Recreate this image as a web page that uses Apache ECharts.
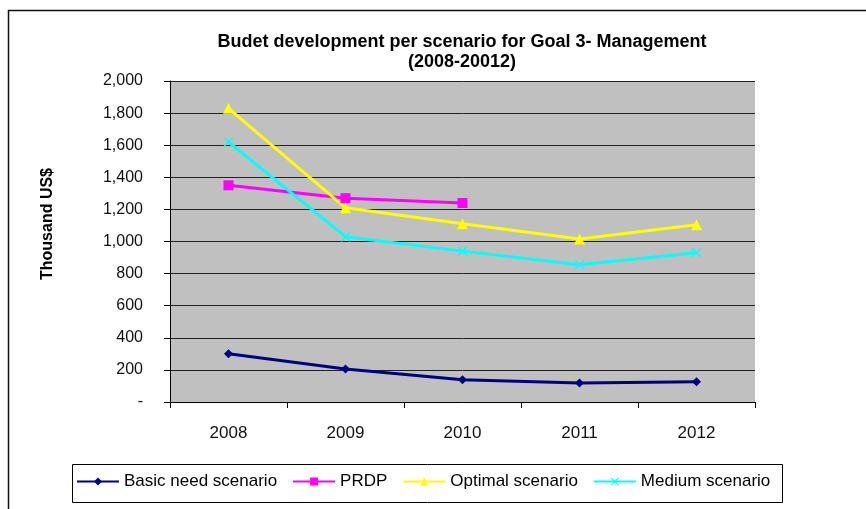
<!DOCTYPE html>
<html>
<head>
<meta charset="utf-8">
<script src="https://cdn.jsdelivr.net/npm/echarts@6/dist/echarts.min.js"></script>
<style>
  html, body { margin: 0; padding: 0; background: #fff; }
  #chart { width: 866px; height: 509px; }
</style>
</head>
<body>
<div id="chart"></div>
<script>
const years = ['2008', '2009', '2010', '2011', '2012'];
const basicNeed = [300, 205, 138, 118, 126];
const prdp = [1350, 1270, 1240, null, null];
const optimal = [1830, 1210, 1110, 1015, 1105];
const medium = [1620, 1030, 940, 855, 930];

const crossSymbol = 'path://M0,1L1,0L5,4L9,0L10,1L6,5L10,9L9,10L5,6L1,10L0,9L4,5Z';
const font = 'Arial, "Liberation Sans", sans-serif';

let chart = echarts.init(document.getElementById('chart'));

function makeLine(name, data, color, symbol, size) {
    return {
        name: name,
        type: 'line',
        data: data,
        symbol: symbol,
        symbolSize: size,
        showAllSymbol: true,
        lineStyle: { color: color, width: 3 },
        itemStyle: { color: color },
        emphasis: { disabled: true }
    };
}

let option = {
    animation: false,
    textStyle: { fontFamily: font },
    title: {
        text: 'Budet development per scenario for Goal 3- Management\n(2008-20012)',
        left: 457,
        textAlign: 'center',
        top: 27,
        textStyle: { fontSize: 18, fontWeight: 'bold', color: '#000', lineHeight: 20, fontFamily: font }
    },
    graphic: [
        {
            // outer chart frame (right and bottom edges fall outside the picture)
            type: 'rect',
            left: 6,
            top: 8,
            shape: { width: 870, height: 510 },
            style: { fill: 'none', stroke: '#111', lineWidth: 1.5 },
            silent: true
        },
        {
            type: 'rect',
            left: 70,
            top: 462,
            shape: { width: 710, height: 38 },
            style: { fill: 'none', stroke: '#000', lineWidth: 1 },
            silent: true
        },
        {
            type: 'text',
            x: 48,
            y: 224,
            rotation: Math.PI / 2,
            style: {
                text: 'Thousand US$',
                fontSize: 16,
                fontWeight: 'bold',
                fontFamily: font,
                fill: '#000',
                align: 'center',
                verticalAlign: 'middle'
            },
            silent: true
        }
    ],
    legend: {
        left: 76,
        top: 473,
        padding: 0,
        itemGap: 15,
        itemWidth: 42,
        itemHeight: 10,
        textStyle: { fontSize: 17, color: '#000', fontFamily: font },
        data: ['Basic need scenario', 'PRDP', 'Optimal scenario', 'Medium scenario']
    },
    grid: { left: 170, right: 111, top: 81, bottom: 107, show: true, backgroundColor: '#C0C0C0', borderWidth: 0 },
    xAxis: {
        type: 'category',
        data: years,
        boundaryGap: true,
        axisLine: { lineStyle: { color: '#000', width: 1 } },
        axisTick: { show: true, length: 6, lineStyle: { color: '#000' } },
        axisLabel: { color: '#111', fontSize: 17, margin: 23, fontFamily: font }
    },
    yAxis: {
        type: 'value',
        min: 0,
        max: 2000,
        interval: 200,
        axisLine: { show: true, lineStyle: { color: '#000', width: 1 } },
        axisTick: { show: true, length: 6, lineStyle: { color: '#000' } },
        splitLine: { lineStyle: { color: '#222', width: 1 } },
        axisLabel: {
            color: '#111',
            fontSize: 16,
            margin: 27,
            fontFamily: font,
            formatter: function (v) {
                return v === 0 ? '-' : v.toLocaleString('en-US');
            }
        }
    },
    series: [
        makeLine('Basic need scenario', basicNeed, '#000080', 'diamond', 9),
        makeLine('PRDP', prdp, '#FF00FF', 'rect', 10),
        makeLine('Optimal scenario', optimal, '#FFFF00', 'triangle', 11),
        makeLine('Medium scenario', medium, '#00FFFF', crossSymbol, 10)
    ]
};

chart.setOption(option);
</script>
</body>
</html>
